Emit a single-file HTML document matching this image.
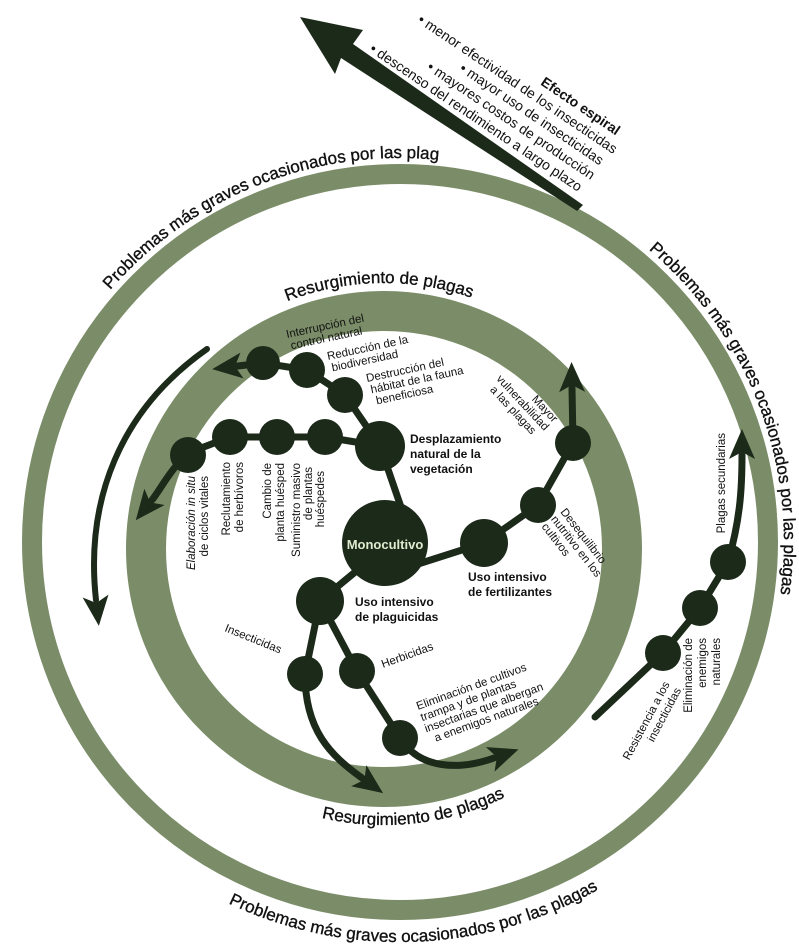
<!DOCTYPE html>
<html><head><meta charset="utf-8"><style>
html,body{margin:0;padding:0;background:#fff;}
svg{display:block;}
text{font-family:"Liberation Sans",sans-serif;fill:#111;}
.s{font-size:11.5px;}
.b{font-size:12px;font-weight:bold;}
.ring{font-size:17px;stroke:#111;stroke-width:0.35;}
</style></head><body>
<svg width="799" height="949" viewBox="0 0 799 949" xmlns="http://www.w3.org/2000/svg">
<defs>
<marker id="ah" markerUnits="userSpaceOnUse" markerWidth="34" markerHeight="30" refX="4" refY="15" orient="auto">
<path d="M0,2 L30,15 L0,28 L7,15 Z" fill="#1c2a1a"/>
</marker>
<path id="oCW" d="M16,542 A384,384 0 0 1 784,542 A384,384 0 0 1 16,542"/>
<path id="oCCW" d="M0,542 A400,400 0 0 0 800,542 A400,400 0 0 0 0,542"/>
<path id="iCW" d="M118,549 A266,266 0 0 1 650,549 A266,266 0 0 1 118,549"/>
<path id="iCCW" d="M108,549 A276,276 0 0 0 660,549 A276,276 0 0 0 108,549"/>
</defs>

<circle cx="400" cy="542" r="368" fill="none" stroke="#7b8d68" stroke-width="20"/>
<circle cx="384" cy="549" r="238" fill="none" stroke="#7b8d68" stroke-width="40"/>

<text class="ring"><textPath href="#oCW" startOffset="19.0%" text-anchor="middle">Problemas más graves ocasionados por las plag</textPath></text>
<text class="ring"><textPath href="#oCW" startOffset="44.2%" text-anchor="middle">Problemas más graves ocasionados por las plagas</textPath></text>
<text class="ring"><textPath href="#oCCW" startOffset="25.6%" text-anchor="middle">Problemas más graves ocasionados por las plagas</textPath></text>
<text class="ring"><textPath href="#iCW" startOffset="24.7%" text-anchor="middle">Resurgimiento de plagas</textPath></text>
<text class="ring"><textPath href="#iCCW" startOffset="26.8%" text-anchor="middle">Resurgimiento de plagas</textPath></text>

<polygon points="300,17 363,30 353,44 583,205 577,211 341,58 335,74" fill="#1c2a1a"/>
<g transform="translate(578,192) rotate(34)" font-size="14">
<text x="0" y="-68" text-anchor="end" font-weight="bold">Efecto espiral</text>
<text x="8" y="-51" text-anchor="end">• menor efectividad de los insecticidas</text>
<text x="3" y="-34" text-anchor="end">• mayor uso de insecticidas</text>
<text x="4" y="-17" text-anchor="end">• mayores costos de producción</text>
<text x="0" y="0" text-anchor="end">• descenso del rendimiento a largo plazo</text>
</g>

<g fill="none" stroke="#1c2a1a" stroke-width="7" stroke-linecap="round">
<path d="M207,349 C120,410 85,500 96,600" stroke-width="6" marker-end="url(#ah)"/>
<path d="M402,510 L380,446"/>
<path d="M380,446 L345,395 L307,370 L263,363 L238,366" marker-end="url(#ah)"/>
<path d="M380,446 L325,437 L277,437 L230,437 L188,453 C170,470 160,490 152,500" marker-end="url(#ah)"/>
<path d="M415,565 L484,543 L538,505 L573,443 L572,388" marker-end="url(#ah)"/>
<path d="M360,568 L320,601"/>
<path d="M320,601 L305,674 C305,730 330,755 362,778" marker-end="url(#ah)"/>
<path d="M320,601 L357,671 L400,738 C420,770 460,770 494,758" marker-end="url(#ah)"/>
<path d="M595,717 L663,653 L700,608 L728,562 C740,520 742,490 742,455" marker-end="url(#ah)"/>
</g>

<g fill="#1c2a1a">
<circle cx="385" cy="543" r="43"/>
<circle cx="380" cy="446" r="25"/>
<circle cx="345" cy="395" r="18"/>
<circle cx="307" cy="370" r="18"/>
<circle cx="263" cy="363" r="17"/>
<circle cx="325" cy="437" r="18"/>
<circle cx="277" cy="437" r="18"/>
<circle cx="230" cy="437" r="18"/>
<circle cx="188" cy="455" r="18"/>
<circle cx="484" cy="543" r="24"/>
<circle cx="538" cy="505" r="18"/>
<circle cx="573" cy="443" r="18"/>
<circle cx="320" cy="601" r="24"/>
<circle cx="305" cy="674" r="18"/>
<circle cx="357" cy="671" r="18"/>
<circle cx="400" cy="738" r="18"/>
<circle cx="663" cy="653" r="18"/>
<circle cx="700" cy="608" r="18"/>
<circle cx="728" cy="562" r="18"/>
</g>

<text x="385" y="549" text-anchor="middle" font-size="13" font-weight="bold" style="fill:#dfeccf">Monocultivo</text>

<text class="b" x="410" y="443">Desplazamiento</text>
<text class="b" x="410" y="458">natural de la</text>
<text class="b" x="410" y="473">vegetación</text>
<text class="b" x="468" y="581">Uso intensivo</text>
<text class="b" x="468" y="596">de fertilizantes</text>
<text class="b" x="355" y="606">Uso intensivo</text>
<text class="b" x="355" y="621">de plaguicidas</text>

<g transform="rotate(-12 287 338)"><text class="s" x="287" y="338">Interrupción del</text><text class="s" x="289" y="350">control natural</text></g>
<g transform="rotate(-12 328 360)"><text class="s" x="328" y="360">Reducción de la</text><text class="s" x="330" y="372">biodiversidad</text></g>
<g transform="rotate(-12 367 382)"><text class="s" x="367" y="382">Destrucción del</text><text class="s" x="369" y="394">hábitat de la fauna</text><text class="s" x="372" y="406">beneficiosa</text></g>

<g transform="translate(195,476) rotate(-90)"><text class="s" text-anchor="end" x="0" y="0"><tspan font-style="italic">Elaboración in situ</tspan></text><text class="s" text-anchor="end" x="0" y="13">de ciclos vitales</text></g>
<g transform="translate(230,462) rotate(-90)"><text class="s" text-anchor="end" x="0" y="0">Reclutamiento</text><text class="s" text-anchor="end" x="0" y="13">de herbívoros</text></g>
<g transform="translate(271,463) rotate(-90)"><text class="s" text-anchor="end" x="0" y="0">Cambio de</text><text class="s" text-anchor="end" x="0" y="13">planta huésped</text></g>
<g transform="translate(300,463) rotate(-90)"><text class="s" text-anchor="end" x="0" y="0">Suministro masivo</text><text class="s" text-anchor="end" x="-4" y="12">de plantas</text><text class="s" text-anchor="end" x="-8" y="24">huéspedes</text></g>

<g transform="translate(560,512) rotate(52)"><text class="s" x="0" y="0">Desequilibrio</text><text class="s" x="0" y="12">nutritivo en los</text><text class="s" x="0" y="24">cultivos</text></g>
<g transform="translate(553,423) rotate(47)"><text class="s" text-anchor="end" x="0" y="0">Mayor</text><text class="s" text-anchor="end" x="0" y="12">vulnerabilidad</text><text class="s" text-anchor="end" x="-6" y="24">a las plagas</text></g>
<g transform="translate(725,433) rotate(-90)"><text class="s" text-anchor="end" x="0" y="0">Plagas secundarias</text></g>
<g transform="translate(692,638) rotate(-90)"><text class="s" text-anchor="end" x="0" y="0">Eliminación de</text><text class="s" text-anchor="end" x="0" y="14">enemigos</text><text class="s" text-anchor="end" x="0" y="28">naturales</text></g>
<g transform="translate(670,684) rotate(-62)"><text class="s" text-anchor="end" x="0" y="0">Resistencia a los</text><text class="s" text-anchor="end" x="0" y="13">insecticidas</text></g>

<text class="s" transform="rotate(22 224 631)" x="224" y="631">Insecticidas</text>
<text class="s" transform="rotate(-20 383 668)" x="383" y="668">Herbicidas</text>
<g transform="translate(418,710) rotate(-20)"><text class="s" x="0" y="0">Eliminación de cultivos</text><text class="s" x="0" y="12">trampa y de plantas</text><text class="s" x="0" y="24">insectarias que albergan</text><text class="s" x="6" y="36">a enemigos naturales</text></g>
</svg>
</body></html>
